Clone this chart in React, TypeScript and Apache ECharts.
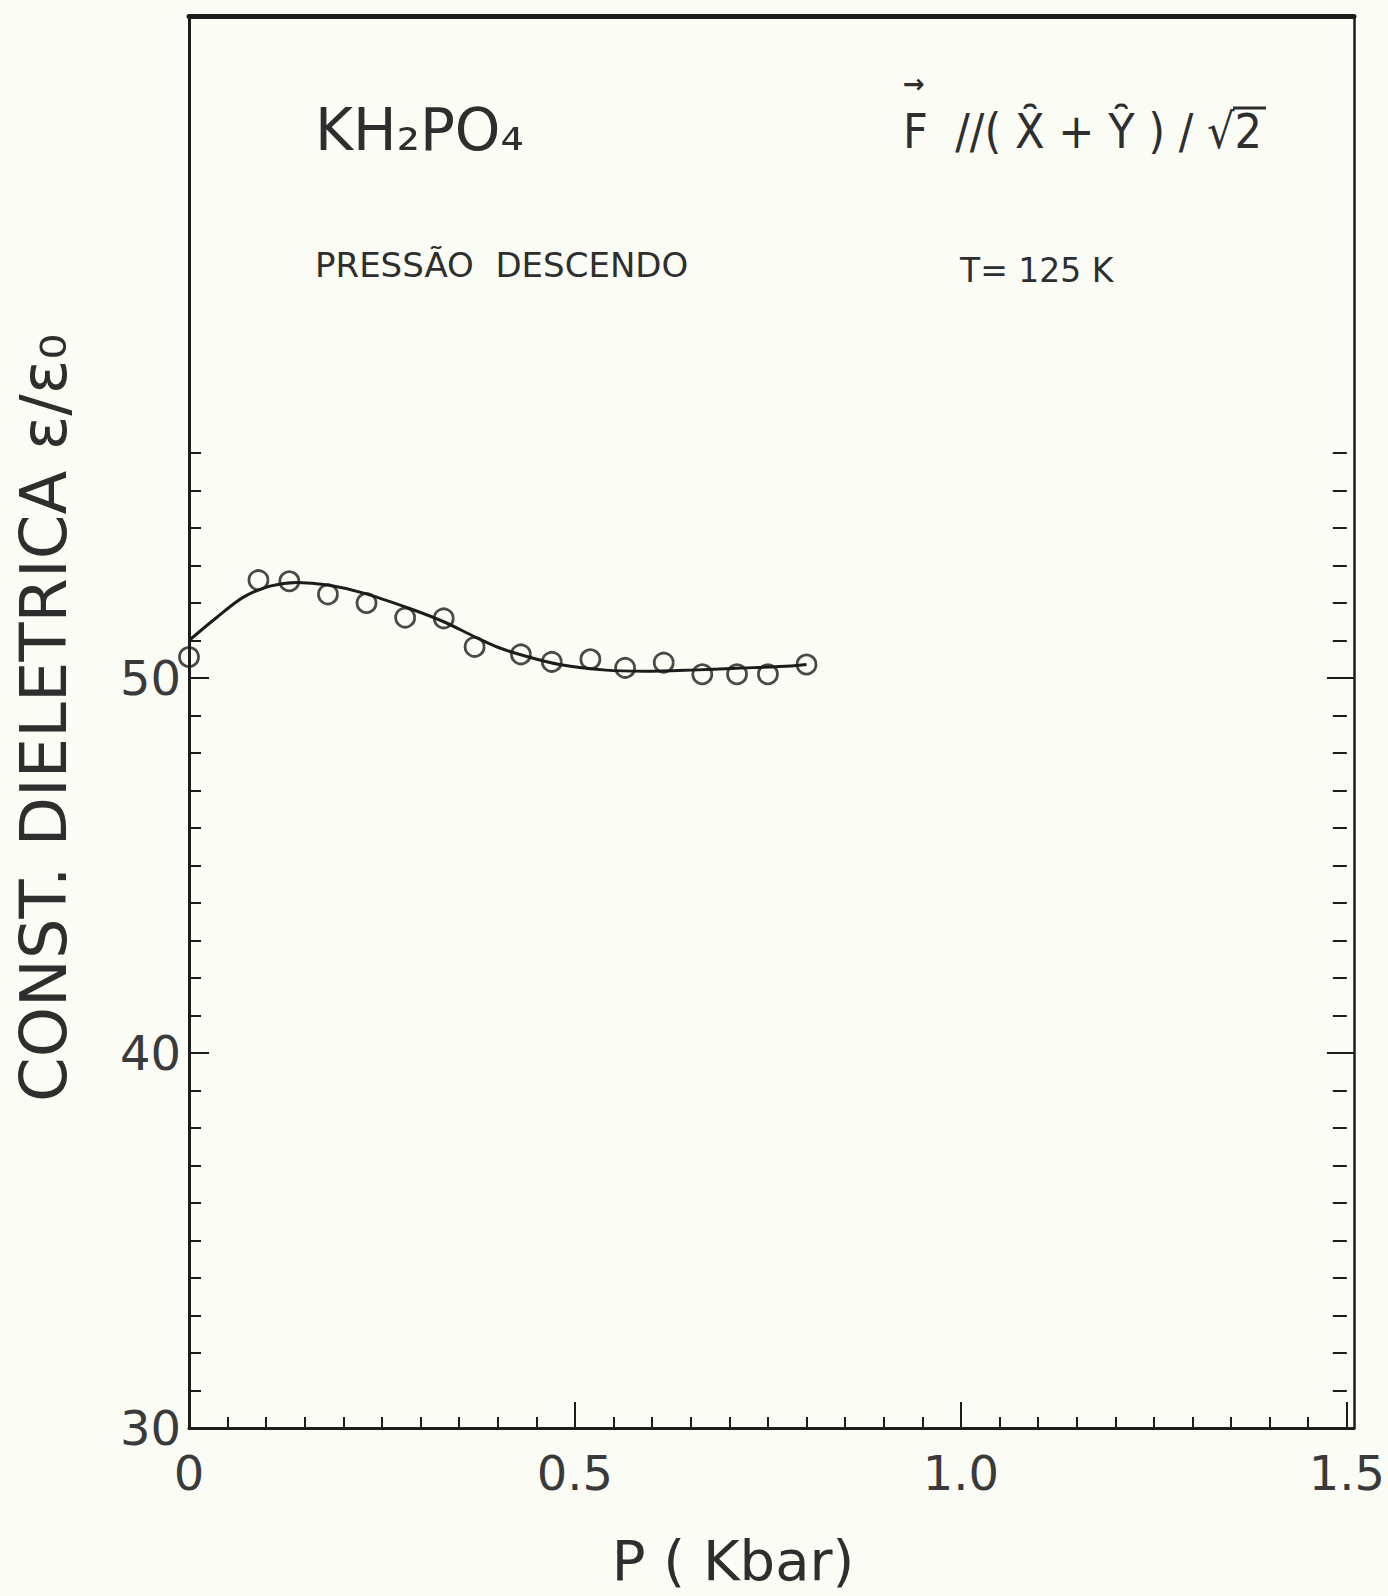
import React, { useEffect, useRef } from "react";
import * as echarts from "echarts";

// ---- data ----
const pressureKbar = [0, 0.09, 0.13, 0.18, 0.23, 0.28, 0.33, 0.37, 0.43, 0.47, 0.52, 0.565, 0.615, 0.665, 0.71, 0.75, 0.8];
const epsilonMeasured = [50.56, 52.61, 52.58, 52.23, 52.0, 51.61, 51.59, 50.83, 50.63, 50.43, 50.5, 50.27, 50.41, 50.1, 50.1, 50.1, 50.36];

const curvePressure = [0, 0.035, 0.07, 0.105, 0.14, 0.18, 0.225, 0.285, 0.33, 0.37, 0.4, 0.44, 0.48, 0.54, 0.59, 0.65, 0.71, 0.78, 0.8];
const curveEpsilon = [51.0, 51.6, 52.15, 52.45, 52.55, 52.48, 52.27, 51.86, 51.5, 51.1, 50.82, 50.56, 50.36, 50.21, 50.18, 50.21, 50.26, 50.32, 50.36];

const xMin = 0;
const xMax = 1.5;
const xMajor = 0.5;
const yMin = 30;
const yTickTop = 56;
const yMajorTop = 50;
const yMajor = 10;

const xTickLabels = ["0", "0.5", "1.0", "1.5"];
const yTickLabels = ["30", "40", "50"];

// ---- layout ----
const W = 1388;
const H = 1596;
const PLOT_LEFT = 189;
const PLOT_RIGHT = 1354;
const PLOT_TOP = 16;
const PLOT_BOTTOM = 1428;
const PX_PER_UNIT = 37.5;
const yToPx = (v: number) => PLOT_BOTTOM - (v - yMin) * PX_PER_UNIT;

const INK = "#1c1c1c";
const TEXT = "#2e2e2e";
const PAPER = "#fcfcf7";

export default function App() {
  const ref = useRef<HTMLDivElement>(null);

  useEffect(() => {
    if (!ref.current) return;
    const chart = echarts.init(ref.current, undefined, { renderer: "svg" });

    const gridBase = { left: PLOT_LEFT, right: W - PLOT_RIGHT, bottom: H - PLOT_BOTTOM, containLabel: false };
    const off = { show: false };
    const frameAxis = (gridIndex: number, position: string, width: number) => ({
      type: "value",
      gridIndex,
      position,
      min: 0,
      max: 1,
      axisLine: { show: true, onZero: false, lineStyle: { color: INK, width } },
      axisTick: off,
      axisLabel: off,
      splitLine: off,
    });
    const hiddenAxis = (gridIndex: number, min: number, max: number) => ({
      type: "value",
      gridIndex,
      min,
      max,
      axisLine: off,
      axisTick: off,
      axisLabel: off,
      splitLine: off,
    });

    const sans = "DejaVu Sans, sans-serif";
    const labelFont = { fontFamily: sans, fontWeight: 400, color: "#3a3a3a", fontSize: 48, lineHeight: 40 };

    const option: any = {
      animation: false,
      backgroundColor: PAPER,
      grid: [
        { ...gridBase, top: PLOT_TOP },
        { ...gridBase, top: yToPx(yTickTop) },
        { ...gridBase, top: yToPx(yMajorTop) },
      ],
      xAxis: [
        frameAxis(0, "bottom", 3),
        frameAxis(0, "top", 5),
        {
          type: "value",
          gridIndex: 1,
          position: "bottom",
          min: xMin,
          max: xMax,
          interval: xMajor,
          axisLine: { show: false, onZero: false },
          axisTick: { show: true, inside: true, length: 26, lineStyle: { color: INK, width: 2 } },
          minorTick: { show: true, splitNumber: 10, length: 11, lineStyle: { color: INK, width: 2 } },
          axisLabel: {
            ...labelFont,
            margin: 25,
            formatter: (v: number) => xTickLabels[Math.round((v - xMin) / xMajor)] ?? "",
          },
          splitLine: off,
        },
        hiddenAxis(2, xMin, xMax),
      ],
      yAxis: [
        frameAxis(0, "left", 3),
        frameAxis(0, "right", 2.5),
        {
          type: "value",
          gridIndex: 1,
          position: "left",
          min: yMin,
          max: yTickTop,
          interval: 1,
          axisLine: { show: false, onZero: false },
          axisTick: { show: true, inside: true, length: 12, lineStyle: { color: INK, width: 2 } },
          axisLabel: off,
          splitLine: off,
        },
        {
          type: "value",
          gridIndex: 1,
          position: "right",
          min: yMin,
          max: yTickTop,
          interval: 1,
          axisLine: { show: false, onZero: false },
          axisTick: { show: true, inside: true, length: 14, lineStyle: { color: INK, width: 2 } },
          axisLabel: off,
          splitLine: off,
        },
        {
          type: "value",
          gridIndex: 2,
          position: "left",
          min: yMin,
          max: yMajorTop,
          interval: yMajor,
          axisLine: { show: false, onZero: false },
          axisTick: { show: true, inside: true, length: 20, lineStyle: { color: INK, width: 2 } },
          axisLabel: {
            ...labelFont,
            margin: 8,
            formatter: (v: number) => yTickLabels[Math.round((v - yMin) / yMajor)] ?? "",
          },
          splitLine: off,
        },
        {
          type: "value",
          gridIndex: 2,
          position: "right",
          min: yMin,
          max: yMajorTop,
          interval: yMajor,
          axisLine: { show: false, onZero: false },
          axisTick: { show: true, inside: true, length: 27, lineStyle: { color: INK, width: 2 } },
          axisLabel: off,
          splitLine: off,
        },
      ],
      series: [
        {
          name: "ajuste",
          type: "line",
          xAxisIndex: 2,
          yAxisIndex: 2,
          data: curvePressure.map((p, i) => [p, curveEpsilon[i]]),
          smooth: 0.3,
          showSymbol: false,
          symbol: "none",
          lineStyle: { color: INK, width: 3 },
          z: 2,
        },
        {
          name: "medidas",
          type: "scatter",
          xAxisIndex: 2,
          yAxisIndex: 2,
          data: pressureKbar.map((p, i) => [p, epsilonMeasured[i]]),
          symbol: "circle",
          symbolSize: 19,
          itemStyle: { color: "rgba(0,0,0,0)", borderColor: INK, borderWidth: 2.8 },
          z: 3,
        },
      ],
      graphic: [
        {
          type: "text",
          x: 315,
          y: 130,
          style: { text: "KH₂PO₄", fontFamily: sans, fontSize: 58, fill: TEXT, verticalAlign: "middle", align: "left" },
        },
        {
          type: "text",
          x: 903,
          y: 84,
          style: { text: "→", fontFamily: sans, fontSize: 26, lineHeight: 26, fontWeight: "bold", fill: TEXT, verticalAlign: "middle", align: "left" },
        },
        {
          type: "text",
          x: 903,
          y: 131,
          style: { text: "F  //( X̑ + Y̑ ) / √2", fontFamily: "DejaVu Sans Condensed, DejaVu Sans, sans-serif", fontSize: 48, lineHeight: 52, fill: TEXT, verticalAlign: "middle", align: "left" },
        },
        {
          type: "line",
          shape: { x1: 1233, y1: 108, x2: 1266, y2: 108 },
          style: { stroke: TEXT, lineWidth: 3 },
        },
        {
          type: "text",
          x: 315,
          y: 265,
          style: { text: "PRESSÃO  DESCENDO", fontFamily: sans, fontSize: 34, fill: TEXT, verticalAlign: "middle", align: "left" },
        },
        {
          type: "text",
          x: 960,
          y: 270,
          style: { text: "T= 125 K", fontFamily: sans, fontSize: 33, fill: TEXT, verticalAlign: "middle", align: "left" },
        },
        {
          type: "text",
          x: 733,
          y: 1560,
          style: { text: "P ( Kbar)", fontFamily: sans, fontSize: 56, lineHeight: 60, fill: TEXT, verticalAlign: "middle", align: "center" },
        },
        {
          type: "text",
          x: 44,
          y: 718,
          rotation: Math.PI / 2,
          style: { text: "CONST. DIELETRICA ε/ε₀", fontFamily: sans, fontSize: 64, fill: TEXT, verticalAlign: "middle", align: "center" },
        },
      ],
    };

    chart.setOption(option);
    return () => chart.dispose();
  }, []);

  return <div ref={ref} style={{ position: "absolute", left: 0, top: 0, width: W, height: H }} />;
}
